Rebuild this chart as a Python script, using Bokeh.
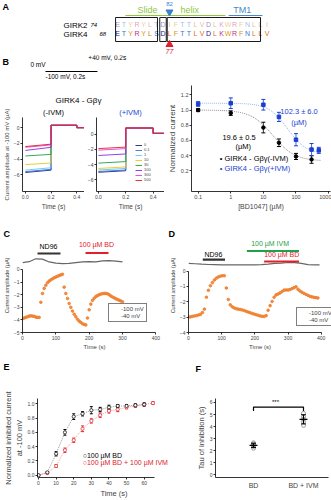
import numpy as np
from bokeh.plotting import figure
from bokeh.layouts import column, row
from bokeh.models import Range1d, Label, Legend, LegendItem, ColumnDataSource, Whisker
from bokeh.core.properties import value
from bokeh.embed import file_html
from bokeh.resources import INLINE

FONT = "Liberation Sans"

# ---------------- DATA ----------------
# Panel A: alignment
girk2_name, girk2_first = "GIRK2", "74"
girk4_name, girk4_first = "GIRK4", "68"
girk2_seq = list("ETYRYLTDIFTTLVDLKWRFNLLI")
girk4_seq = list("ETYRYLSDLFTTLVDLKWRFNLLV")
site_girk2, site_girk4 = "82", "77"
site_index = 8
slide_helix_span = [1.2, 16.6]
tm1_span = [17.1, 22.3]
box_spans = [[-0.3, 6.15], [6.5, 7.5], [7.65, 22.0]]

# Panel B: protocol (s, mV)
prot_t = [0.0, 0.2]
prot_v = [-100, -100]

# Panel B: current traces (uA) for [BD1047] (uM)
conc_labels = ["0", "0.1", "1", "10", "30", "100", "300", "500"]
b1_start = [-5.7, -5.6, -5.4, -4.7, -3.6, -2.9, -2.5, -2.4]
b1_end = [-5.4, -5.3, -5.1, -4.5, -3.4, -2.5, -2.2, -2.1]
b1_step = [0.3, 0.3, 0.3, 0.3, 0.3, 0.3, 0.3, 0.3]
b1_tail = [0.0, 0.0, 0.0, 0.0, 0.0, 0.0, 0.0, 0.0]
b2_start = [-5.0, -4.9, -4.7, -4.5, -3.8, -2.8, -2.1, -1.9]
b2_end = [-4.8, -4.7, -4.5, -4.3, -3.6, -2.6, -1.9, -1.7]
b2_step = [0.8, 0.8, 0.8, 0.8, 0.8, 0.8, 0.8, 0.8]
b2_tail = [0.1, 0.1, 0.1, 0.1, 0.1, 0.1, 0.1, 0.1]

# Panel B: dose response
dr_conc_minus = [0.1, 1, 10, 30, 100, 300]
dr_minus = [1.0, 0.96, 0.77, 0.57, 0.39, 0.35]
dr_minus_err = [0.02, 0.03, 0.07, 0.05, 0.04, 0.05]
dr_conc_plus = [0.1, 1, 10, 30, 100, 300, 500]
dr_plus = [1.08, 1.09, 1.07, 0.91, 0.61, 0.48, 0.47]
dr_plus_err = [0.03, 0.07, 0.07, 0.06, 0.08, 0.08, 0.04]
fit_minus = dict(top=1.0, bottom=0.33, ic50=19.6, n=1.3)
fit_plus = dict(top=1.09, bottom=0.42, ic50=55.0, n=1.5)
ic50_minus_text = "19.6 ± 0.5"
ic50_plus_text = "102.3 ± 6.0"

# Panel C
c_t = [0, 5, 10, 15, 20, 25, 30, 35, 40, 45, 50,
       55, 60, 65, 70, 75, 80, 85, 90, 95, 100, 105, 110, 115, 120,
       125, 130, 135, 140, 145, 150, 155, 160, 165, 170, 175, 180, 185, 190,
       195, 200, 205, 210, 215, 220, 225, 230, 235, 240, 245, 250, 255, 260,
       265, 270, 275, 280, 285, 290, 295, 300]
c_i100 = [-3.9, -3.85, -3.8, -3.75, -3.7, -3.68, -3.7, -3.72, -3.78, -3.8, -3.8,
          -2.6, -1.9, -1.5, -1.25, -1.05, -0.92, -0.82, -0.74, -0.66, -0.6, -0.54, -0.48, -0.43, -0.38,
          -1.4, -1.9, -2.3, -2.7, -3.0, -3.3, -3.55, -3.75, -3.95, -4.1, -4.2, -4.3, -4.36, -4.4,
          -3.85, -3.2, -2.75, -2.45, -2.28, -2.15, -2.07, -2.0, -1.95, -1.92, -1.9, -1.9, -1.93, -2.0,
          -2.1, -2.18, -2.25, -2.32, -2.38, -2.44, -2.5, -2.56]
c_gray_t = [0, 20, 40, 60, 80, 100, 120, 140, 160, 180, 200, 220, 240, 260, 280, 300]
c_gray_v = [0.55, 0.62, 0.85, 0.82, 0.6, 0.5, 0.46, 0.48, 0.55, 0.6, 0.62, 0.6, 0.68, 0.7, 0.66, 0.6]
c_nd96 = [45, 114]
c_bd = [189, 258]

# Panel D
d_t = [0, 6, 12, 18, 24, 30, 36, 42, 48, 54, 60, 66, 72, 78, 84, 90, 96, 102, 108,
       114, 120, 126, 132, 138, 144, 150, 156, 162, 168, 174, 180, 186, 192, 198, 204,
       210, 216, 222, 228, 234, 240, 246, 252, 258, 264, 270, 276, 282, 288, 294, 300,
       306, 312, 318, 324, 330, 336, 342, 348, 354, 360, 366, 372, 378, 384, 390]
d_i100 = [-3.0, -2.98, -2.95, -2.92, -2.9, -2.86, -2.82, -2.7, -2.48, -1.7, -1.25, -0.95, -0.75,
          -0.58, -0.46, -0.38, -0.33, -0.3, -0.3, -1.1, -1.85, -2.2, -2.33, -2.4, -2.45, -2.48,
          -2.5, -2.53, -2.57, -2.62, -2.67, -2.71, -2.76, -2.8, -2.84, -2.88, -2.92, -2.94,
          -2.96, -2.9, -2.55, -2.25, -1.98, -1.7, -1.55, -1.49, -1.42, -1.33, -1.24, -1.23,
          -1.23, -1.2, -1.14, -1.08, -1.02, -1.18, -1.3, -1.38, -1.45, -1.52, -1.58, -1.64,
          -1.68, -1.71, -1.73, -1.75]
d_gray_t = [0, 20, 40, 60, 80, 100, 120, 140, 160, 180, 200, 220, 240, 260, 280, 300, 320, 340, 360, 380, 395]
d_gray_v = [0.5, 0.48, 0.45, 0.43, 0.42, 0.4, 0.4, 0.4, 0.4, 0.4, 0.41, 0.42, 0.45, 0.5, 0.52,
            0.56, 0.55, 0.5, 0.42, 0.4, 0.4]
d_nd96 = [43, 110]
d_ivm = [176, 333]
d_bd = [228, 333]

# Panel E
e_t_bd = [0, 5, 10, 15, 20, 25, 30, 35, 40, 45, 50, 55, 60]
e_bd = [0.0, 0.04, 0.30, 0.60, 0.82, 0.86, 0.91, 0.92, 0.95, 0.97, 0.97, 0.98, 0.99]
e_bd_err = [0.0, 0.01, 0.03, 0.04, 0.04, 0.03, 0.05, 0.03, 0.03, 0.02, 0.02, 0.02, 0.02]
e_t_ivm = [0, 5, 10, 15, 20, 25, 30, 35, 40, 45, 50, 55, 60, 65]
e_ivm = [0.0, 0.03, 0.13, 0.35, 0.49, 0.65, 0.76, 0.84, 0.90, 0.92, 0.95, 0.97, 0.99, 1.01]
e_ivm_err = [0.0, 0.01, 0.02, 0.03, 0.03, 0.04, 0.03, 0.03, 0.03, 0.03, 0.02, 0.02, 0.02, 0.02]

# Panel F
f_groups = ["BD", "BD + IVM"]
f_tau_bd = [2.2, 2.35, 2.45, 2.55, 2.65]
f_tau_ivm = [4.1, 4.4, 4.6, 4.8, 5.1]
f_sig = "***"

# ---------------- STYLE ----------------
trace_colors = ["#1a237e", "#3f6fd8", "#5ec8f0", "#f0c419", "#1fa04a", "#8a2be2", "#e040e0", "#e02020"]
ORANGE = "#f07f2f"
BLUE = "#1a3fd0"
RED = "#e0202a"
GREEN = "#8dc63f"


def aa_color(a):
    if a in "DE":
        return "#20209a"
    if a in "KRH":
        return "#c0308a"
    if a in "STNQ":
        return "#3a78d0"
    if a in "YFW":
        return "#d89a20"
    if a in "GP":
        return "#20a060"
    return "#e07020"


def lab(p, x, y, text, size="7px", color="black", align="left", baseline="middle",
        angle=0.0, style="normal"):
    p.add_layout(Label(x=x, y=y, text=text, text_font=FONT, text_font_size=size,
                       text_color=color, text_align=align, text_baseline=baseline,
                       angle=angle, text_font_style=style))


def base_fig(w, h, xr, yr, ml, mr, mt, mb, tick="5px", **kw):
    p = figure(width=w, height=h, x_range=xr, y_range=yr, output_backend="svg",
               toolbar_location=None, min_border_left=ml, min_border_right=mr,
               min_border_top=mt, min_border_bottom=mb, **kw)
    p.grid.visible = False
    p.outline_line_color = None
    for ax in p.axis:
        ax.major_label_text_font = FONT
        ax.major_label_text_font_size = tick
        ax.major_tick_in = 0
        ax.major_tick_out = 2
        ax.minor_tick_in = 0
        ax.minor_tick_out = 0
        ax.axis_line_width = 0.8
        ax.major_tick_line_width = 0.8
        ax.major_label_standoff = 1
        ax.axis_label_text_font = FONT
        ax.axis_label_text_font_style = "normal"
        ax.axis_label_standoff = 1
    return p


def axis_titles(p, xlab=None, ylab=None, xsize="6.5px", ysize="6.5px"):
    if xlab is not None:
        p.xaxis.axis_label = xlab
        p.xaxis.axis_label_text_font_size = xsize
    if ylab is not None:
        p.yaxis.axis_label = ylab
        p.yaxis.axis_label_text_font_size = ysize


def blank_fig(w, h, xr, yr):
    p = figure(width=w, height=h, x_range=xr, y_range=yr, output_backend="svg",
               toolbar_location=None, min_border=0)
    p.axis.visible = False
    p.grid.visible = False
    p.outline_line_color = None
    return p


# ---------------- PANEL A ----------------
pA = blank_fig(331, 55, Range1d(-18.0, 32.92), Range1d(55, 0))
idx = list(range(len(girk4_seq)))
pA.text(x=idx, y=[24] * len(idx), text=girk2_seq, text_color=[aa_color(a) for a in girk2_seq],
        text_alpha=0.5, text_font=value(FONT), text_font_size="7px",
        text_align="center", text_baseline="middle")
pA.text(x=idx, y=[33] * len(idx), text=girk4_seq, text_color=[aa_color(a) for a in girk4_seq],
        text_font=value(FONT), text_font_size="7px", text_align="center", text_baseline="middle")
pA.quad(left=[b[0] for b in box_spans], right=[b[1] for b in box_spans],
        top=[17, 17, 17], bottom=[41, 41, 41], fill_color=None, line_color="black", line_width=0.9)
pA.line(slide_helix_span, [15, 15], line_color=GREEN, line_width=1.2)
pA.line(tm1_span, [15, 15], line_color="#4a8ac8", line_width=1.2)
pA.scatter([site_index], [11.5], marker="inverted_triangle", size=7, color="#3a7fd0")
pA.scatter([site_index], [44], marker="triangle", size=7, color=RED)
lab(pA, -17.7, 6, "A", "9px", style="bold")
lab(pA, 4.6, 9, "Slide", "9px", GREEN, "center")
lab(pA, 11.1, 9, "helix", "9px", GREEN, "center")
lab(pA, 19.2, 9, "TM1", "9px", "#4a8ac8", "center")
lab(pA, site_index, 3, site_girk2, "6px", "#3a7fd0", "center")
lab(pA, site_index, 51, site_girk4, "7px", RED, "center", style="italic")
lab(pA, -8.3, 24.5, girk2_name, "8px")
lab(pA, -4.15, 24.5, girk2_first, "6px", style="italic")
lab(pA, -8.3, 33.5, girk4_name, "8px")
lab(pA, -2.77, 33.5, girk4_first, "6px", style="italic")

# ---------------- PANEL B: protocol ----------------
pP = blank_fig(164, 50, Range1d(-0.173, 0.458), Range1d(-585.7, 128.6))
pP.line(prot_t, prot_v, line_color="black", line_width=1)
lab(pP, -0.165, 28.6, "B", "9px", style="bold")
lab(pP, -0.058, 0, "0 mV", "6.5px")
lab(pP, 0.165, 100, "+40 mV, 0.2s", "6.5px")
lab(pP, 0.0, -171, "-100 mV, 0.2s", "6.5px")
lab(pP, 0.127, -510, "GIRK4 - Gβγ", "8px", align="center")


def trace_fig(w, xr, yr, ml, start, end, step, tail, yticks, title, tcolor):
    p = base_fig(w, 107, xr, yr, ml, 0, 12, 15, tick="5px", title=title)
    p.title.text_font = FONT
    p.title.text_font_size = "7.5px"
    p.title.text_font_style = "normal"
    p.title.text_color = tcolor
    p.title.align = "center"
    p.title.standoff = 1
    rs = []
    for i in range(len(start)):
        r = p.line([0, 0.2, 0.2, 0.4, 0.4, 0.5],
                   [start[i], end[i], step[i], step[i], tail[i], tail[i]],
                   line_color=trace_colors[i], line_width=0.9)
        rs.append(r)
    p.xaxis.ticker = [0.0, 0.2, 0.4]
    p.xaxis.major_label_overrides = {0.0: "0.0", 0.2: "0.2", 0.4: "0.4"}
    p.yaxis.ticker = yticks
    return p, rs


pB1, _ = trace_fig(84, Range1d(-0.022, 0.46), Range1d(-8.12, 1.29), 18,
                   b1_start, b1_end, b1_step, b1_tail, [-6, -4, -2, 0], "(-IVM)", "black")
axis_titles(pB1, "Time (s)", "Current amplitude at -100 mV (µA)", "6.5px", "6px")

pB2, rsB2 = trace_fig(80, Range1d(-0.0138, 0.483), Range1d(-7.52, 2.18), 9,
                      b2_start, b2_end, b2_step, b2_tail, [-6, -4, -2, 0], "(+IVM)", BLUE)
axis_titles(pB2, "Time (s)", None, "6.5px")
legB = Legend(items=[LegendItem(label=conc_labels[i], renderers=[rsB2[i]]) for i in range(8)],
              location=(38, 8), label_text_font=FONT, label_text_font_size="4px",
              label_height=4, glyph_height=4, glyph_width=7, spacing=0, padding=1,
              margin=0, background_fill_alpha=0, border_line_alpha=0, label_standoff=2)
pB2.add_layout(legB)

# ---------------- PANEL B: dose response ----------------
pDR = base_fig(167, 157, Range1d(0.0626, 1143), Range1d(-0.071, 1.323), 19, 1, 30, 19,
               tick="5.5px", x_axis_type="log")
pDR.xaxis.ticker = [0.1, 1, 10, 100, 1000]
pDR.xaxis.major_label_overrides = {0.1: "0.1", 1: "1", 10: "10", 100: "100", 1000: "1000"}
pDR.xaxis.minor_tick_out = 1
pDR.yaxis.ticker = [0.2, 0.4, 0.6, 0.8, 1.0, 1.2]
pDR.yaxis.major_label_overrides = {0.2: "0.2", 0.4: "0.4", 0.6: "0.6", 0.8: "0.8", 1.0: "1.0", 1.2: "1.2"}
axis_titles(pDR, "[BD1047] (µM)", "Normalized current", "7px", "8px")
xx = np.logspace(-1, np.log10(600), 120)
for fp, col in ((fit_minus, "#8a8a8a"), (fit_plus, "#8fb4ea")):
    yy = fp["bottom"] + (fp["top"] - fp["bottom"]) / (1 + (xx / fp["ic50"]) ** fp["n"])
    pDR.line(xx, yy, line_color=col, line_width=1, line_dash="1 1")
for cx, cy, ce, col, mk in ((dr_conc_minus, dr_minus, dr_minus_err, "black", "circle"),
                            (dr_conc_plus, dr_plus, dr_plus_err, BLUE, "square")):
    src = ColumnDataSource(dict(x=cx, y=cy, up=np.array(cy) + np.array(ce),
                                lo=np.array(cy) - np.array(ce)))
    w = Whisker(source=src, base="x", upper="up", lower="lo", line_color=col, line_width=0.8)
    w.upper_head.size = 4
    w.lower_head.size = 4
    w.upper_head.line_color = col
    w.lower_head.line_color = col
    pDR.add_layout(w)
    pDR.scatter("x", "y", source=src, marker=mk, size=3.5, color=col)
lab(pDR, 1.8, 0.635, ic50_minus_text, "7.5px", align="center")
lab(pDR, 2.41, 0.527, "(µM)", "7.5px", align="center")
lab(pDR, 124, 0.978, ic50_plus_text, "7.5px", BLUE, align="center")
lab(pDR, 124, 0.836, "(µM)", "7.5px", BLUE, align="center")
lab(pDR, 0.46, 0.368, "• GIRK4 - Gβγ(-IVM)", "7.5px")
lab(pDR, 0.46, 0.235, "• GIRK4 - Gβγ(+IVM)", "7.5px", BLUE)

# ---------------- PANEL C / D ----------------
stripCD = blank_fig(331, 26, Range1d(0, 331), Range1d(26, 0))
lab(stripCD, 3, 21, "C", "9px", style="bold")
lab(stripCD, 168, 21, "D", "9px", style="bold")


def cd_fig(w, xr, yr, ml, mb, t, i100, gt, gv, yticks, loc):
    p = base_fig(w, 114, xr, yr, ml, 0, 0, mb, tick="5px")
    p.xaxis.ticker = [0, 100, 200, 300, 400]
    p.xaxis.bounds = (0, 400)
    p.yaxis.ticker = yticks
    p.yaxis.bounds = (yticks[0], yticks[-1])
    axis_titles(p, "Time (s)", "Current amplitude (µA)", "6px", "5.5px")
    p.line(gt, gv, line_color="#666666", line_width=1.2)
    p.scatter(t, i100, marker="circle", size=2.6, color=ORANGE, alpha=0.9)
    rg = p.scatter([], [], marker="square", size=5, color="#9a9a9a")
    ro_l = p.scatter([], [], marker="square", size=5, color=ORANGE)
    leg = Legend(items=[LegendItem(label="-100 mV", renderers=[ro_l]),
                        LegendItem(label="-40 mV", renderers=[rg])],
                 location=loc, label_text_font=FONT, label_text_font_size="6px", label_height=6,
                 glyph_height=6, glyph_width=6, spacing=1, padding=2, margin=0,
                 border_line_color="black", border_line_width=0.8, label_standoff=4)
    p.add_layout(leg)
    return p


pC = cd_fig(166, Range1d(0, 432), Range1d(-5, 2.46), 22, 17, c_t, c_i100,
            c_gray_t, c_gray_v, [-5, -4, -3, -2, -1, 0], (86, 10))
pC.line(c_nd96, [1.27, 1.27], line_color="#333333", line_width=2.2)
pC.line(c_bd, [1.31, 1.31], line_color=RED, line_width=2.2)
lab(pC, 78, 1.8, "ND96", "7px", align="center")
lab(pC, 222, 1.95, "100 µM BD", "7px", RED, align="center")

pD = cd_fig(165, Range1d(0, 431), Range1d(-4, 2.125), 16, 16, d_t, d_i100,
            d_gray_t, d_gray_v, [-4, -3, -2, -1, 0], (108, 6))
pD.line(d_nd96, [0.75, 0.75], line_color="#333333", line_width=2.2)
pD.line(d_ivm, [1.31, 1.31], line_color="#1fa04a", line_width=2.2)
pD.line(d_bd, [0.625, 0.625], line_color=RED, line_width=2.2)
lab(pD, 75, 1.08, "ND96", "7px", align="center")
lab(pD, 246, 1.8, "100 µM IVM", "7px", "#1fa04a", align="center")
lab(pD, 281, 1.08, "100 µM BD", "7px", RED, align="center")

# ---------------- PANEL E ----------------
stripEF = blank_fig(331, 26, Range1d(0, 331), Range1d(26, 0))
lab(stripEF, 3, 14, "E", "9px", style="bold")
lab(stripEF, 195, 16, "F", "9px", style="bold")

pE = base_fig(190, 122, Range1d(-0.57, 86.3), Range1d(-0.032, 1.074), 37, 0, 0, 18, tick="5px")
pE.xaxis.ticker = [0, 10, 20, 30, 40, 50, 60]
pE.xaxis.bounds = (0, 66)
pE.yaxis.ticker = [0.0, 0.2, 0.4, 0.6, 0.8, 1.0]
pE.yaxis.major_label_overrides = {0.0: "0.0", 0.2: "0.2", 0.4: "0.4", 0.6: "0.6", 0.8: "0.8", 1.0: "1.0"}
axis_titles(pE, "Time (s)", "Normalized inhibited current\nat -100 mV", "7.5px", "7.5px")
for tt, yy_, ee, col, lcol in ((e_t_ivm, e_ivm, e_ivm_err, RED, "#f08080"),
                               (e_t_bd, e_bd, e_bd_err, "black", "#808080")):
    src = ColumnDataSource(dict(x=tt, y=yy_, up=np.array(yy_) + np.array(ee),
                                lo=np.array(yy_) - np.array(ee)))
    pE.line("x", "y", source=src, line_color=lcol, line_width=0.8, line_dash="1 1")
    w = Whisker(source=src, base="x", upper="up", lower="lo", line_color=col, line_width=0.7)
    w.upper_head.size = 3
    w.lower_head.size = 3
    w.upper_head.line_color = col
    w.lower_head.line_color = col
    pE.add_layout(w)
    pE.scatter("x", "y", source=src, marker="circle", size=3.2, line_color=col,
               fill_color="white", line_width=0.7)
lab(pE, 25.1, 0.277, "○100 µM BD", "7px")
lab(pE, 25.1, 0.18, "○100 µM BD + 100 µM IVM", "7px", RED)

# ---------------- PANEL F ----------------
pF = base_fig(141, 122, Range1d(0.24, 2.5), Range1d(-0.23, 6.33), 25, 3, 20, 18, tick="5px")
pF.xaxis.ticker = [1, 2]
pF.xaxis.major_label_overrides = {1: f_groups[0], 2: f_groups[1]}
pF.xaxis.major_label_text_font_size = "7px"
pF.xaxis.major_tick_out = 0
pF.xaxis.major_label_standoff = 4
pF.yaxis.ticker = [0, 1, 2, 3, 4, 5, 6]
axis_titles(pF, None, "Tau of inhibition (s)", ysize="7.5px")
for xi, vals in ((1, f_tau_bd), (2, f_tau_ivm)):
    m = float(np.mean(vals))
    sd = float(np.std(vals, ddof=1))
    pF.scatter([xi] * len(vals), vals, marker="circle", size=4, line_color="#777777",
               fill_color=None, line_width=0.7)
    pF.segment([xi - 0.08], [m], [xi + 0.08], [m], line_color="black", line_width=1.2)
    pF.segment([xi], [m - sd], [xi], [m + sd], line_color="black", line_width=1)
    pF.segment([xi - 0.05, xi - 0.05], [m - sd, m + sd], [xi + 0.05, xi + 0.05], [m - sd, m + sd],
               line_color="black", line_width=1)
pF.line([1, 1, 2, 2], [5.3, 5.62, 5.62, 5.3], line_color="black", line_width=1.2)
lab(pF, 1.44, 6.0, f_sig, "6px", align="center")

# ---------------- LAYOUT ----------------
left_B = column(pP, row(pB1, pB2))
layout = column(pA, row(left_B, pDR), stripCD, row(pC, pD), stripEF, row(pE, pF))

open("out.html", "w").write(file_html(layout, INLINE))
